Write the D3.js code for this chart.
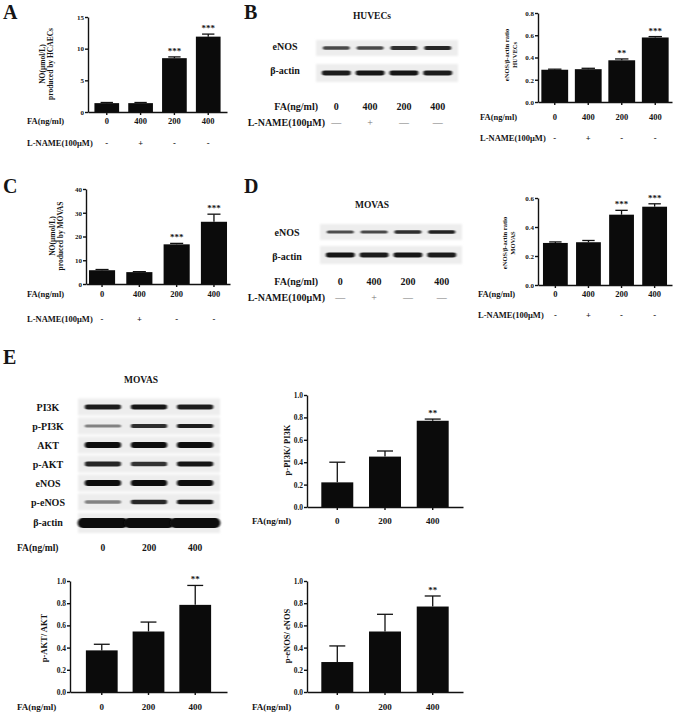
<!DOCTYPE html>
<html><head><meta charset="utf-8">
<script src="https://cdn.jsdelivr.net/npm/d3@7"></script>
<style>
body{margin:0;background:#fff}
svg text{font-family:'Liberation Serif','DejaVu Serif','Times New Roman',serif !important;font-weight:bold;fill:#151515}
</style>
</head><body>
<svg id="fig" width="676" height="713"></svg>
<script>
// ---------------- data ----------------
const groups4 = ["0","400","200","400"];
const lnameSigns = ["-","+","-","-"];
const lnameBlotSigns = ["\u2014","+","\u2014","\u2014"];
const groups3 = ["0","200","400"];

const noHCAEC = [1.4, 1.4, 8.5, 11.9];
const noHCAECerr = [0.1, 0.1, 0.2, 0.4];
const noHCAECsig = ["", "", "***", "***"];
const ticksA = [0, 5, 10, 15];

const enosHUVEC = [0.29, 0.295, 0.375, 0.58];
const enosHUVECerr = [0.005, 0.008, 0.012, 0.008];
const enosHUVECsig = ["", "", "**", "***"];
const ticksB = [0, 0.2, 0.4, 0.6, 0.8];

const noMOVAS = [5.8, 5.0, 16.7, 26.2];
const noMOVASerr = [0.3, 0.2, 0.4, 3.2];
const noMOVASsig = ["", "", "***", "***"];
const ticksC = [0, 10, 20, 30, 40];

const enosMOVAS = [0.29, 0.295, 0.485, 0.54];
const enosMOVASerr = [0.007, 0.012, 0.03, 0.02];
const enosMOVASsig = ["", "", "***", "***"];
const ticksD = [0, 0.2, 0.4, 0.6];

const pPI3K = [0.22, 0.45, 0.77];
const pPI3Kerr = [0.18, 0.05, 0.015];
const pAKT = [0.375, 0.545, 0.785];
const pAKTerr = [0.055, 0.085, 0.175];
const peNOS = [0.27, 0.545, 0.77];
const peNOSerr = [0.145, 0.155, 0.095];
const sigE = ["", "", "**"];
const ticksE = [0, 0.2, 0.4, 0.6, 0.8, 1.0];

// western blot band darkness (0..1) per lane
const blotB_eNOS = [0.72, 0.72, 0.85, 0.88];
const blotB_actin = [0.92, 0.95, 0.95, 0.92];
const blotD_eNOS = [0.7, 0.72, 0.85, 0.9];
const blotD_actin = [0.95, 0.92, 0.95, 0.92];
const blotERows = ["PI3K", "p-PI3K", "AKT", "p-AKT", "eNOS", "p-eNOS", "\u03b2-actin"];
const blotE = [
  [0.92, 0.95, 0.92],
  [0.45, 0.85, 0.92],
  [1.0, 1.0, 1.0],
  [0.88, 0.82, 0.95],
  [1.0, 1.0, 1.0],
  [0.45, 0.88, 0.97],
  [1.0, 1.0, 1.0]
];

// ---------------- drawing ----------------
const FONT = "'Liberation Serif','DejaVu Serif','Times New Roman',serif";
const svg = d3.select("#fig");
const defs = svg.append("defs");
defs.append("filter").attr("id","blur").attr("x","-20%").attr("y","-80%").attr("width","140%").attr("height","260%")
  .append("feGaussianBlur").attr("stdDeviation","0.9 0.7");
defs.append("filter").attr("id","blur2").attr("x","-10%").attr("y","-30%").attr("width","120%").attr("height","160%")
  .append("feGaussianBlur").attr("stdDeviation","0.8");

function text(x, y, s, size, anchor = "middle") {
  return svg.append("text").attr("x", x).attr("y", y).attr("dy", "0.35em")
    .attr("text-anchor", anchor).attr("font-size", size).text(s);
}

function barChart(o) {
  const g = svg.append("g");
  const n = o.values.length;
  const x = d3.scaleBand().domain(d3.range(n)).range([o.x0, o.x1]).paddingInner(o.pin).paddingOuter(o.pout);
  const y = d3.scaleLinear().domain([0, o.max]).range([o.yb, o.yt]);
  const bw = x.bandwidth();
  g.selectAll("rect.bar").data(o.values).join("rect").attr("class","bar")
    .attr("x", (d,i) => x(i)).attr("y", d => y(d)).attr("width", bw)
    .attr("height", d => y(0) - y(d)).attr("fill", "#0b0b0b");
  const eg = g.append("g").attr("stroke", "#111").attr("stroke-width", 1.3);
  o.values.forEach((v, i) => {
    const cx = x(i) + bw / 2, top = y(v + o.err[i]);
    eg.append("line").attr("x1", cx).attr("x2", cx).attr("y1", y(v)).attr("y2", top);
    eg.append("line").attr("x1", cx - bw * 0.25).attr("x2", cx + bw * 0.25).attr("y1", top).attr("y2", top);
    if (o.sig[i]) {
      g.append("text").attr("x", cx).attr("y", top - 3).attr("text-anchor", "middle")
        .attr("font-size", o.starSize || 9).text(o.sig[i]);
    }
  });
  const ya = g.append("g").attr("transform", `translate(${o.x0},0)`)
    .call(d3.axisLeft(y).tickValues(o.ticks).tickFormat(d3.format(o.fmt)).tickSize(3).tickSizeOuter(0).tickPadding(1));
  ya.selectAll("text").attr("font-size", o.tickSize || 7).attr("fill", "#151515");
  ya.selectAll("path,line").attr("stroke", "#111").attr("stroke-width", 1.4);
  const xa = g.append("g").attr("transform", `translate(0,${o.yb})`)
    .call(d3.axisBottom(x).tickFormat("").tickSize(3).tickSizeOuter(0));
  xa.selectAll("path,line").attr("stroke", "#111").attr("stroke-width", 1.4);
  o.ylabel.forEach((s, k) => {
    g.append("text").attr("transform", `translate(${o.ylx[k]},${o.yly}) rotate(-90)`)
      .attr("text-anchor", "middle").attr("dy", "0.35em").attr("font-size", o.ylSize || 7.5).text(s);
  });
  o.rows.forEach(r => {
    text(o.rowLabelX, r.y, r.label, o.rowSize || 8.5, "start");
    r.values.forEach((s, i) => text(x(i) + bw / 2, r.y, s, o.rowSize || 8.5));
  });
}

function blot(o) {
  const g = svg.append("g");
  const x = d3.scaleBand().domain(d3.range(o.lanes.length)).range([o.x0, o.x1]).padding(o.pad);
  const col = d3.interpolateRgb("#e2e2e2", "#0d0d0d");
  o.strips.forEach(s => {
    g.append("rect").attr("x", o.x0).attr("y", s.y0).attr("width", o.x1 - o.x0).attr("height", s.h)
      .attr("fill", "#ededed").attr("filter", "url(#blur2)");
    s.dark.forEach((d, i) => {
      const th = s.th * (0.6 + 0.4 * d);
      g.append("rect").attr("x", x(i) - s.extra).attr("y", s.y0 + s.h / 2 - th / 2)
        .attr("width", x.bandwidth() + 2 * s.extra).attr("height", th)
        .attr("rx", th / 2).attr("fill", col(d)).attr("filter", "url(#blur)");
    });
    if (s.label) text(o.labelX, s.labelY, s.label, o.labelSize || 10);
  });
  return x;
}

// ---- panel letters
[["A",3,19],["B",244,19],["C",3,193],["D",244,193],["E",3,364]].forEach(([s,x,y]) =>
  svg.append("text").attr("x", x).attr("y", y).attr("font-size", 20).text(s));

// ---- Panel A
barChart({values: noHCAEC, err: noHCAECerr, sig: noHCAECsig, max: 15, ticks: ticksA, fmt: "d",
  x0: 88, x1: 227, pin: 0.27, pout: 0.19, yt: 17, yb: 112,
  ylabel: ["NO(\u03bcmol/L)", "produced by HCAECs"], ylx: [42, 50], yly: 64,
  rowLabelX: 27, rows: [{y: 121, label: "FA(ng/ml)", values: groups4}, {y: 143, label: "L-NAME(100\u03bcM)", values: lnameSigns}]});

// ---- Panel B blot
text(372, 16, "HUVECs", 9.5);
{
  const lanes = groups4;
  const x = blot({lanes, x0: 316, x1: 458, pad: 0.2, labelX: 285,
    strips: [{y0: 40, h: 16, th: 4, extra: 0, dark: blotB_eNOS, label: "eNOS", labelY: 46},
             {y0: 64, h: 18, th: 5, extra: 1, dark: blotB_actin, label: "\u03b2-actin", labelY: 70}]});
  text(318, 106, "FA(ng/ml)", 10, "end");
  text(325, 122, "L-NAME(100\u03bcM)", 10, "end");
  lanes.forEach((s, i) => {
    text(x(i) + x.bandwidth() / 2, 106, s, 10);
    svg.append("text").attr("x", x(i) + x.bandwidth() / 2).attr("y", 122).attr("dy", "0.35em")
      .attr("text-anchor", "middle").attr("font-size", 10).style("font-weight", "normal").style("fill", "#777")
      .text(lnameBlotSigns[i]);
  });
}

// ---- Panel B chart
barChart({values: enosHUVEC, err: enosHUVECerr, sig: enosHUVECsig, max: 0.8, ticks: ticksB, fmt: ".1f",
  x0: 538, x1: 672, pin: 0.2, pout: 0.1, yt: 13, yb: 102,
  ylabel: ["eNOS/\u03b2-actin ratio", "HUVECs"], ylx: [507, 515], yly: 55, ylSize: 6.5,
  rowLabelX: 480, rows: [{y: 117, label: "FA(ng/ml)", values: groups4}, {y: 138, label: "L-NAME(100\u03bcM)", values: lnameSigns}]});

// ---- Panel C
barChart({values: noMOVAS, err: noMOVASerr, sig: noMOVASsig, max: 40, ticks: ticksC, fmt: "d",
  x0: 86, x1: 230, pin: 0.3, pout: 0.08, yt: 189, yb: 284,
  ylabel: ["NO(\u03bcmol/L)", "produced by MOVAS"], ylx: [52, 60], yly: 236,
  rowLabelX: 27, rows: [{y: 294, label: "FA(ng/ml)", values: groups4}, {y: 319, label: "L-NAME(100\u03bcM)", values: lnameSigns}]});

// ---- Panel D blot
text(372, 205, "MOVAS", 9.5);
{
  const lanes = groups4;
  const x = blot({lanes, x0: 320, x1: 462, pad: 0.2, labelX: 287,
    strips: [{y0: 224, h: 16, th: 3.5, extra: 0, dark: blotD_eNOS, label: "eNOS", labelY: 232},
             {y0: 246, h: 18, th: 5, extra: 1, dark: blotD_actin, label: "\u03b2-actin", labelY: 256}]});
  text(318, 281, "FA(ng/ml)", 10, "end");
  text(325, 297, "L-NAME(100\u03bcM)", 10, "end");
  lanes.forEach((s, i) => {
    text(x(i) + x.bandwidth() / 2, 281, s, 10);
    svg.append("text").attr("x", x(i) + x.bandwidth() / 2).attr("y", 297).attr("dy", "0.35em")
      .attr("text-anchor", "middle").attr("font-size", 10).style("font-weight", "normal").style("fill", "#777")
      .text(lnameBlotSigns[i]);
  });
}

// ---- Panel D chart
barChart({values: enosMOVAS, err: enosMOVASerr, sig: enosMOVASsig, max: 0.6, ticks: ticksD, fmt: ".1f",
  x0: 538, x1: 672, pin: 0.25, pout: 0.15, yt: 198, yb: 285,
  ylabel: ["eNOS/\u03b2-actin ratio", "MOVAS"], ylx: [505, 513], yly: 243, ylSize: 6.5,
  rowLabelX: 478, rows: [{y: 294, label: "FA(ng/ml)", values: groups4}, {y: 315, label: "L-NAME(100\u03bcM)", values: lnameSigns}]});

// ---- Panel E blot
text(141, 380, "MOVAS", 9.5);
{
  const rowY = [407, 426, 445, 464, 483, 502, 523];
  const ths = [5, 4, 6, 5, 6, 4.5, 10];
  const x = blot({lanes: groups3, x0: 78, x1: 220, pad: 0.08, labelX: 48, labelSize: 10,
    strips: blotE.map((dk, k) => ({y0: rowY[k] - (k === 6 ? 10 : 8.5), h: k === 6 ? 20 : 17, th: ths[k],
      extra: k === 6 ? 4 : -3, dark: dk, label: blotERows[k], labelY: rowY[k] - (k === 6 ? 1 : 0)}))});
  text(17, 548, "FA(ng/ml)", 9.5, "start");
  groups3.forEach((s, i) => text(x(i) + x.bandwidth() / 2, 548, s, 9.5));
}

// ---- Panel E charts
barChart({values: pPI3K, err: pPI3Kerr, sig: sigE, max: 1.0, ticks: ticksE, fmt: ".1f",
  x0: 307, x1: 463, pin: 0.33, pout: 0.3, yt: 395, yb: 507, tickSize: 7.5,
  ylabel: ["p-PI3K/ PI3K"], ylx: [287], yly: 450, ylSize: 8.5,
  rowLabelX: 252, rowSize: 9, rows: [{y: 521, label: "FA(ng/ml)", values: groups3}]});

barChart({values: pAKT, err: pAKTerr, sig: sigE, max: 1.0, ticks: ticksE, fmt: ".1f",
  x0: 70, x1: 227, pin: 0.32, pout: 0.34, yt: 581, yb: 692, tickSize: 7.5,
  ylabel: ["p-AKT/ AKT"], ylx: [44], yly: 638, ylSize: 8.5,
  rowLabelX: 17, rowSize: 9, rows: [{y: 707, label: "FA(ng/ml)", values: groups3}]});

barChart({values: peNOS, err: peNOSerr, sig: sigE, max: 1.0, ticks: ticksE, fmt: ".1f",
  x0: 307, x1: 463, pin: 0.33, pout: 0.3, yt: 581, yb: 692, tickSize: 7.5,
  ylabel: ["p-eNOS/ eNOS"], ylx: [287], yly: 636, ylSize: 8.5,
  rowLabelX: 252, rowSize: 9, rows: [{y: 707, label: "FA(ng/ml)", values: groups3}]});

// force serif font everywhere (axis groups set their own font-family)
svg.selectAll("g").attr("font-family", null);
svg.selectAll("text").attr("font-family", FONT).attr("font-weight", function(){ return this.style.fontWeight === "normal" ? "normal" : "bold"; });
</script>
</body></html>
